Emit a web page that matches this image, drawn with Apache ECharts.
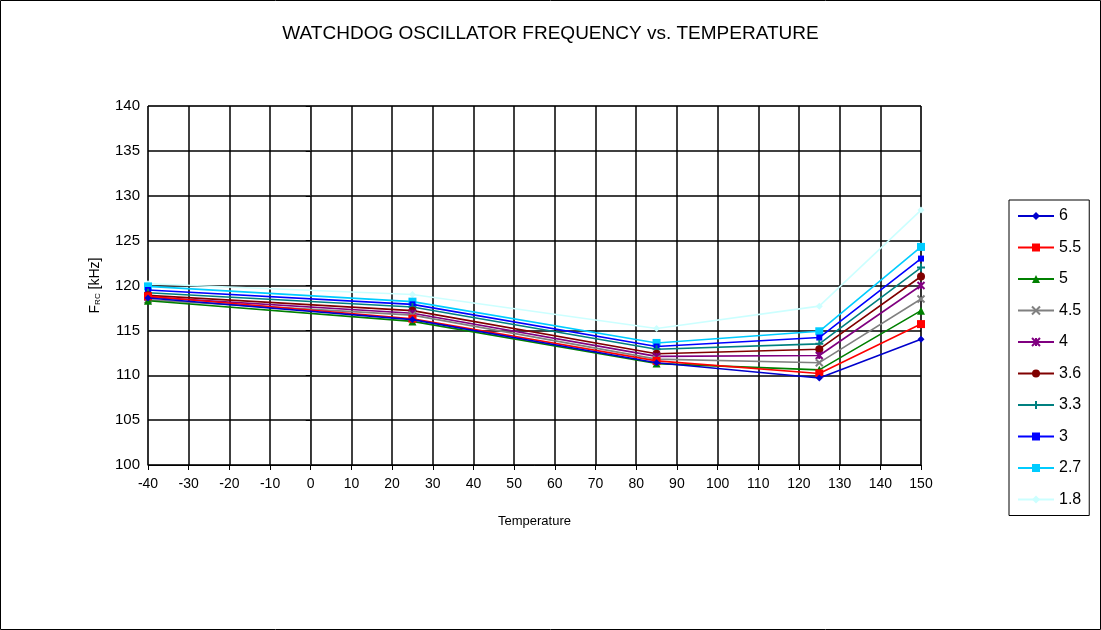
<!DOCTYPE html>
<html>
<head>
<meta charset="utf-8">
<script src="https://cdn.jsdelivr.net/npm/echarts@6/dist/echarts.min.js"></script>
<style>html,body{margin:0;padding:0;background:#fff}#c{width:1101px;height:630px}</style>
</head>
<body>
<div id="c"></div>
<script>
const temperatures = [-40, 25, 85, 125, 150];
const seriesNames = ['6', '5.5', '5', '4.5', '4', '3.6', '3.3', '3', '2.7', '1.8'];
const v6   = [118.6, 116.2, 111.4, 109.7, 114.0];
const v5_5 = [118.8, 116.3, 111.6, 110.2, 115.7];
const v5   = [118.3, 116.0, 111.3, 110.6, 117.2];
const v4_5 = [118.4, 116.7, 111.8, 111.4, 118.5];
const v4   = [118.7, 116.9, 112.1, 112.2, 120.0];
const v3_6 = [118.9, 117.2, 112.4, 112.9, 121.0];
const v3_3 = [119.2, 117.6, 112.9, 113.5, 122.0];
const v3   = [119.5, 117.9, 113.2, 114.2, 123.0];
const v2_7 = [119.9, 118.2, 113.6, 114.9, 124.3];
const v1_8 = [120.2, 119.0, 115.2, 117.7, 128.4];
const seriesValues = [v6, v5_5, v5, v4_5, v4, v3_6, v3_3, v3, v2_7, v1_8];
const xTicks = {min: -40, max: 150, interval: 10};
const yTicks = {min: 100, max: 140, interval: 5};

const colors = ['#0000CC', '#FF0000', '#008000', '#808080', '#800080', '#800000', '#008080', '#0000FF', '#00CCFF', '#CCFFFF'];
const symbols = ['diamond', 'rect', 'triangle', 'path://M0,0L10,10M10,0L0,10', 'path://M0,0L10,10M10,0L0,10M5,0L5,10', 'circle', 'path://M5,0L5,10M0,5L10,5', 'rect', 'rect', 'diamond'];
const sizes = [7, 8, 8, 7, 7, 8, 8, 6, 8, 7];

const series = seriesNames.map((n, i) => ({
  name: n,
  type: 'line',
  data: temperatures.map((t, j) => [t, seriesValues[i][j]]),
  symbol: symbols[i],
  symbolSize: sizes[i],
  showAllSymbol: true,
  lineStyle: {color: colors[i], width: 1.6},
  itemStyle: {color: colors[i], borderColor: colors[i], borderWidth: symbols[i].startsWith('path') ? 2 : 0},
  emphasis: {disabled: true},
  animation: false,
  z: 10 - i
}));

const chart = echarts.init(document.getElementById('c'), null, {renderer: 'canvas'});
chart.setOption({
  backgroundColor: '#fff',
  animation: false,
  textStyle: {fontFamily: 'Liberation Sans, Arial, sans-serif'},
  title: {
    text: 'WATCHDOG OSCILLATOR FREQUENCY vs. TEMPERATURE',
    left: 'center', top: 19,
    textStyle: {fontSize: 19, fontWeight: 'normal', color: '#000', fontFamily: 'Liberation Sans, Arial, sans-serif'}
  },
  grid: {left: 148, right: 180, top: 106, bottom: 165, show: true, borderColor: '#888', borderWidth: 1, backgroundColor: '#fff'},
  xAxis: {
    type: 'value', min: xTicks.min, max: xTicks.max, interval: xTicks.interval,
    name: 'Temperature', nameLocation: 'middle', nameGap: 50,
    nameTextStyle: {fontSize: 13, color: '#000'},
    axisLine: {lineStyle: {color: '#000', width: 1}},
    axisTick: {show: true, length: 5, lineStyle: {color: '#000'}},
    axisLabel: {fontSize: 14, color: '#000', margin: 12},
    splitLine: {show: true, lineStyle: {color: '#000', width: 1.5}}
  },
  yAxis: {
    type: 'value', min: yTicks.min, max: yTicks.max, interval: yTicks.interval,
    name: '{a|F}{b|RC}{a| [kHz]}', nameLocation: 'middle', nameGap: 46, nameRotate: 90,
    nameTextStyle: {rich: {a: {fontSize: 14, color: '#000'}, b: {fontSize: 8, color: '#000', verticalAlign: 'bottom', padding: [6, 0, 0, 0]}}},
    axisLine: {show: true, lineStyle: {color: '#333', width: 1}},
    axisTick: {show: true, length: 5, inside: false, lineStyle: {color: '#000'}},
    axisLabel: {fontSize: 15, color: '#000', margin: 8},
    splitLine: {show: true, lineStyle: {color: '#000', width: 1.5}}
  },
  legend: {
    orient: 'vertical', left: 1009, top: 200,
    data: seriesNames,
    itemWidth: 36, itemHeight: 10, itemGap: 15.5,
    padding: [8, 8, 8, 8],
    borderColor: '#000', borderWidth: 1,
    textStyle: {fontSize: 16, color: '#000'},
    selectedMode: false
  },
  graphic: [{type: 'rect', shape: {x: 0.5, y: 0.5, width: 1100, height: 629}, style: {fill: 'none', stroke: '#000', lineWidth: 1}, silent: true}],
  series: series
});
</script>
</body>
</html>
